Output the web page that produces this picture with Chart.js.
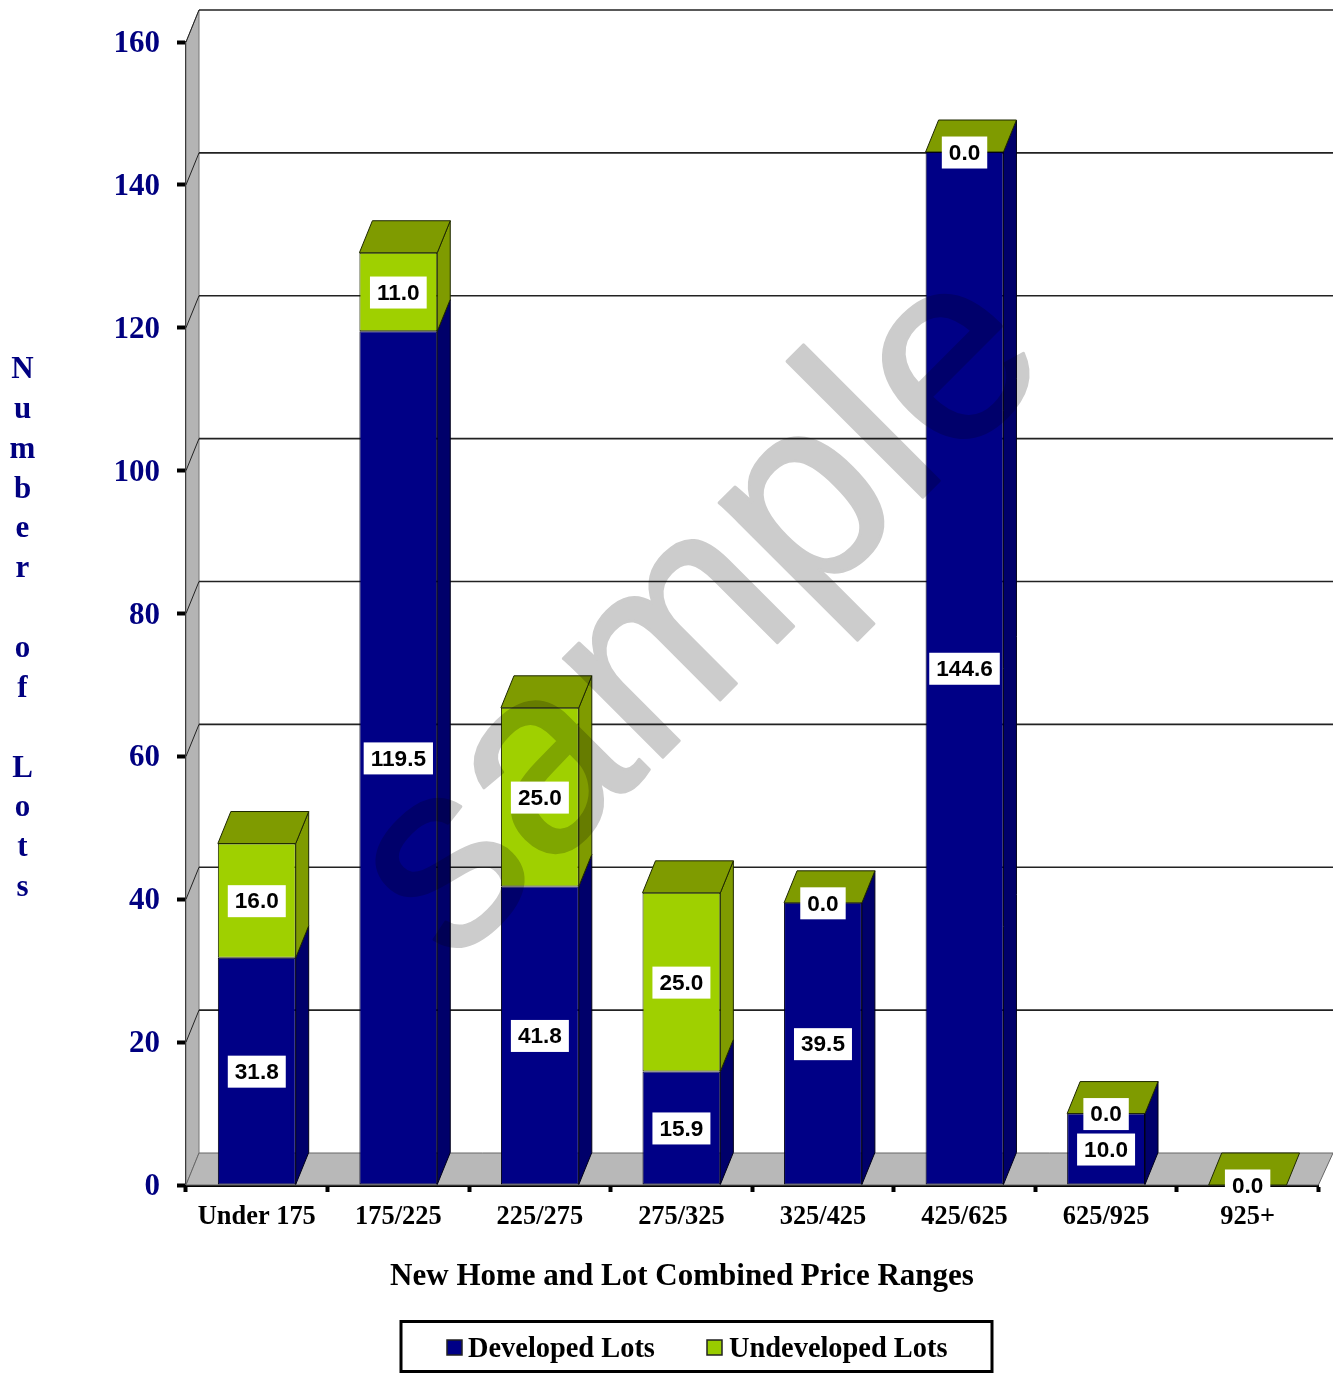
<!DOCTYPE html>
<html>
<head>
<meta charset="utf-8">
<title>New Home and Lot Combined Price Ranges</title>
<script src="https://cdn.jsdelivr.net/npm/chart.js@4"></script>
<style>
    html, body { margin: 0; padding: 0; background: #fff; }
    canvas { display: block; }
</style>
</head>
<body>
<canvas id="lotsChart" width="1333" height="1374"></canvas>
<script>
// --- DATA ---
const categories = ['Under 175', '175/225', '225/275', '275/325', '325/425', '425/625', '625/925', '925+'];
const developedLots = [31.8, 119.5, 41.8, 15.9, 39.5, 144.6, 10.0, 0.0];
const undevelopedLots = [16.0, 11.0, 25.0, 25.0, 0.0, 0.0, 0.0, 0.0];
const yTicks = [0, 20, 40, 60, 80, 100, 120, 140, 160];
const xTitle = 'New Home and Lot Combined Price Ranges';
const yTitle = 'Number of Lots';
const seriesNames = ['Developed Lots', 'Undeveloped Lots'];
const stampText = 'sample';

// --- STYLE ---
const SERIF = '"Liberation Serif", "Times New Roman", serif';
const SANS = '"Liberation Sans", Arial, sans-serif';
const NAVY = '#000080';
const DEPTH_X = 13;   // depth of the fake 3D box
const DEPTH_Y = -32;

const faces = [
    { front: '#000086', side: '#00006a', edge: '#000018' },
    { front: '#9fd000', side: '#7f9b00', edge: '#1e2800' }
];

function poly(ctx, pts, fill, stroke, lw) {
    ctx.beginPath();
    pts.forEach((p, i) => i ? ctx.lineTo(p[0], p[1]) : ctx.moveTo(p[0], p[1]));
    ctx.closePath();
    if (fill) { ctx.fillStyle = fill; ctx.fill(); }
    if (stroke) { ctx.strokeStyle = stroke; ctx.lineWidth = lw || 1; ctx.stroke(); }
}

// left wall, floor and the gridlines offset into the depth
const wallsPlugin = {
    id: 'walls',
    beforeDraw(chart) {
        // tick numbers sit a little under their tick marks
        chart.scales.y.getLabelItems().forEach(item => { item.options.translation[1] += 2; });
    },
    beforeDatasetsDraw(chart) {
        const { ctx, chartArea: a, scales: { y } } = chart;
        const backRight = chart.width;
        ctx.save();
        poly(ctx, [[a.left, a.top], [a.left + DEPTH_X, a.top + DEPTH_Y], [a.left + DEPTH_X, a.bottom + DEPTH_Y], [a.left, a.bottom]], '#b4b4b4', '#777', 1);
        poly(ctx, [[a.left, a.bottom], [a.left + DEPTH_X, a.bottom + DEPTH_Y], [backRight, a.bottom + DEPTH_Y], [a.right, a.bottom]], '#b8b8b8', '#666', 1);
        yTicks.forEach(v => {
            if (v === 0) return;
            const py = y.getPixelForValue(v);
            ctx.strokeStyle = '#222';
            ctx.lineWidth = 1;
            ctx.beginPath();
            ctx.moveTo(a.left, py);
            ctx.lineTo(a.left + DEPTH_X, py + DEPTH_Y);
            ctx.stroke();
            ctx.lineWidth = 1.6;
            ctx.beginPath();
            ctx.moveTo(a.left + DEPTH_X, py + DEPTH_Y);
            ctx.lineTo(backRight, py + DEPTH_Y);
            ctx.stroke();
        });
        drawBarDepth(chart);
        ctx.restore();
    }
};

// side and top faces of each bar, taken from the bar elements
function drawBarDepth(chart) {
    const ctx = chart.ctx;
    const lower = chart.getDatasetMeta(0).data;
    const upper = chart.getDatasetMeta(1).data;
    [lower, upper].forEach((bars, ds) => {
        bars.forEach(bar => {
            const r = bar.x + bar.width / 2;
            if (Math.abs(bar.base - bar.y) < 0.5) return;
            poly(ctx, [[r, bar.base], [r + DEPTH_X, bar.base + DEPTH_Y], [r + DEPTH_X, bar.y + DEPTH_Y], [r, bar.y]], faces[ds].side, faces[ds].edge, 1);
        });
    });
    upper.forEach(bar => {
        const l = bar.x - bar.width / 2;
        const r = bar.x + bar.width / 2;
        poly(ctx, [[l, bar.y], [l + DEPTH_X, bar.y + DEPTH_Y], [r + DEPTH_X, bar.y + DEPTH_Y], [r, bar.y]], faces[1].side, faces[1].edge, 1);
    });
}

// grey stamp across the plot, then the value boxes on top of it
const overlayPlugin = {
    id: 'overlay',
    afterDatasetsDraw(chart) {
        const ctx = chart.ctx;
        // stamp goes on its own canvas first so fill and outline don't multiply twice
        const layer = document.createElement('canvas');
        layer.width = chart.width;
        layer.height = chart.height;
        const sc = layer.getContext('2d');
        sc.translate(452, 968);
        sc.rotate(-Math.PI / 4);
        sc.font = '265px ' + SANS;
        sc.fillStyle = '#cccccc';
        sc.strokeStyle = '#cccccc';
        sc.lineWidth = 3;
        sc.lineJoin = 'round';
        sc.fillText(stampText, 0, 0);
        sc.strokeText(stampText, 0, 0);

        ctx.save();
        ctx.globalCompositeOperation = 'multiply';
        ctx.drawImage(layer, 0, 0);
        ctx.restore();

        ctx.save();
        ctx.font = 'bold 22.6px ' + SANS;
        ctx.textAlign = 'center';
        ctx.textBaseline = 'middle';
        [developedLots, undevelopedLots].forEach((values, ds) => {
            const bars = chart.getDatasetMeta(ds).data;
            values.forEach((v, i) => {
                if (ds === 0 && v === 0) return;
                const bar = bars[i];
                const txt = v.toFixed(1);
                const w = ctx.measureText(txt).width + 14;
                const cy = (bar.y + bar.base) / 2 + 0.5;
                ctx.fillStyle = '#fff';
                ctx.fillRect(bar.x - w / 2, cy - 16, w, 32);
                ctx.fillStyle = '#000';
                ctx.fillText(txt, bar.x, cy + 1);
            });
        });
        ctx.restore();
    }
};

// axis titles and the framed legend
const annotationPlugin = {
    id: 'annotation',
    afterDraw(chart) {
        const ctx = chart.ctx;
        ctx.save();
        ctx.textBaseline = 'alphabetic';

        ctx.font = 'bold 31px ' + SERIF;
        ctx.fillStyle = NAVY;
        ctx.textAlign = 'center';
        yTitle.split('').forEach((ch, i) => {
            if (ch !== ' ') ctx.fillText(ch, 22.5, 378 + i * 39.85);
        });

        ctx.fillStyle = '#000';
        ctx.fillText(xTitle, 682, 1285);

        ctx.strokeStyle = '#000';
        ctx.lineWidth = 3;
        ctx.strokeRect(401, 1321.5, 591, 50);

        ctx.font = 'bold 28.4px ' + SERIF;
        ctx.textAlign = 'left';
        const boxX = [447, 707];
        const textX = [468, 729];
        seriesNames.forEach((name, i) => {
            ctx.fillStyle = i === 0 ? '#000086' : '#99cc00';
            ctx.fillRect(boxX[i], 1340, 15, 15);
            ctx.strokeStyle = '#222';
            ctx.lineWidth = 1.5;
            ctx.strokeRect(boxX[i], 1340, 15, 15);
            ctx.fillStyle = '#000';
            ctx.fillText(name, textX[i], 1357);
        });
        ctx.restore();
    }
};

new Chart(document.getElementById('lotsChart').getContext('2d'), {
    type: 'bar',
    data: {
        labels: categories,
        datasets: [
            {
                label: seriesNames[0],
                data: developedLots,
                backgroundColor: faces[0].front,
                borderColor: faces[0].edge,
                borderWidth: 1,
                borderSkipped: false,
                categoryPercentage: 1,
                barPercentage: 0.55
            },
            {
                label: seriesNames[1],
                data: undevelopedLots,
                backgroundColor: faces[1].front,
                borderColor: faces[1].edge,
                borderWidth: 1,
                borderSkipped: false,
                categoryPercentage: 1,
                barPercentage: 0.55
            }
        ]
    },
    options: {
        responsive: false,
        animation: false,
        layout: { padding: { left: 0, top: 42, right: 14.6, bottom: 0 } },
        plugins: {
            legend: { display: false },
            title: { display: false },
            tooltip: { enabled: false }
        },
        scales: {
            x: {
                stacked: true,
                afterFit(scale) { scale.height = 189; },
                border: { color: '#000', width: 3 },
                grid: { drawOnChartArea: false, tickColor: '#000', tickWidth: 4, tickLength: 7, offset: true },
                ticks: {
                    color: '#000',
                    padding: 9,
                    maxRotation: 0,
                    autoSkip: false,
                    font: { family: SERIF, size: 26.4, weight: 'bold' }
                }
            },
            y: {
                stacked: true,
                min: 0,
                max: 160,
                afterFit(scale) { scale.width = 186; },
                afterBuildTicks(scale) { scale.ticks = yTicks.map(v => ({ value: v })); },
                border: { color: '#000', width: 3 },
                grid: { drawOnChartArea: false, tickColor: '#000', tickWidth: 4, tickLength: 9 },
                ticks: {
                    color: NAVY,
                    padding: 17,
                    font: { family: SERIF, size: 31, weight: 'bold' }
                }
            }
        }
    },
    plugins: [wallsPlugin, overlayPlugin, annotationPlugin]
});
</script>
</body>
</html>
